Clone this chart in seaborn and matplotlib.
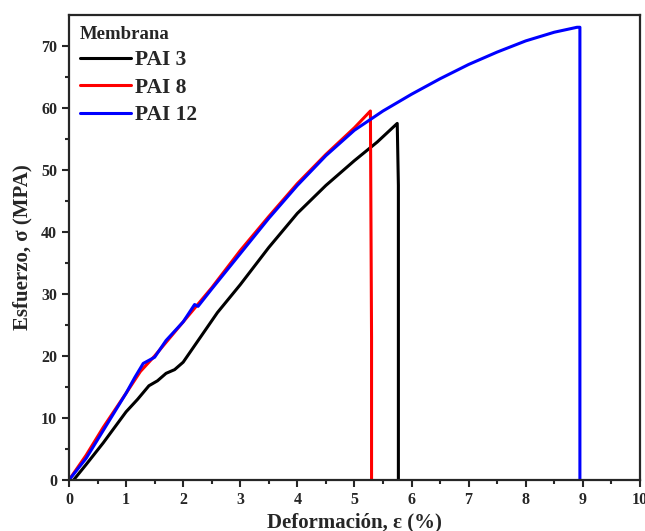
import numpy as np
import matplotlib.pyplot as plt
import pandas as pd
import seaborn as sns

# curves: strain (%) and stress (MPa)
pai3_x = [0.08, 0.3, 0.6, 1.0, 1.2, 1.4, 1.55, 1.7, 1.85, 2.0, 2.3, 2.6, 3.0, 3.5, 4.0, 4.5, 5.0, 5.4, 5.75, 5.77, 5.77]
pai3_y = [0.0, 2.5, 6.0, 11.0, 13.0, 15.2, 16.0, 17.2, 17.8, 19.0, 23.0, 27.0, 31.5, 37.5, 43.0, 47.5, 51.5, 54.5, 57.5, 47.5, 0.0]

pai8_x = [0.0, 0.3, 0.6, 1.0, 1.25, 1.5, 2.0, 2.5, 3.0, 3.5, 4.0, 4.5, 5.0, 5.28, 5.3, 5.3]
pai8_y = [0.0, 4.0, 8.5, 14.0, 17.5, 20.0, 25.5, 31.0, 37.0, 42.5, 47.8, 52.5, 56.8, 59.5, 23.0, 0.0]

pai12_x = [0.0, 0.3, 0.6, 1.0, 1.15, 1.3, 1.5, 1.7, 2.0, 2.2, 2.26, 2.5, 3.0, 3.5, 4.0, 4.5, 5.0, 5.5, 6.0, 6.5, 7.0, 7.5, 8.0, 8.5, 8.9, 8.95, 8.95]
pai12_y = [0.0, 3.5, 8.0, 14.0, 16.5, 18.8, 19.8, 22.5, 25.5, 28.3, 28.0, 30.8, 36.5, 42.2, 47.5, 52.3, 56.4, 59.5, 62.2, 64.7, 67.0, 69.0, 70.8, 72.2, 73.0, 73.0, 0.0]

names = ['PAI 3', 'PAI 8', 'PAI 12']
colors = ['black', 'red', 'blue']

frames = []
for n, xs, ys in zip(names, [pai3_x, pai8_x, pai12_x], [pai3_y, pai8_y, pai12_y]):
    frames.append(pd.DataFrame({'x': xs, 'y': ys, 'Membrana': n}))
data = pd.concat(frames, ignore_index=True)

sns.set_style('ticks')
plt.rcParams['font.family'] = ['Liberation Serif', 'DejaVu Serif']
plt.rcParams['font.weight'] = 'bold'

fig = plt.figure(figsize=(6.45, 5.31), dpi=100)
ax = fig.add_axes([0.107, 0.096, 0.885, 0.876])

sns.lineplot(data=data, x='x', y='y', hue='Membrana', palette=colors,
             sort=False, estimator=None, units='Membrana', linewidth=2.2, ax=ax)

ax.set_xlim(0, 10)
ax.set_ylim(0, 75)
ax.set_xticks(range(0, 11))
ax.set_yticks(range(0, 71, 10))
ax.set_xticks(np.arange(0.5, 10, 1), minor=True)
ax.set_yticks(np.arange(5, 75, 10), minor=True)
ax.tick_params(which='major', direction='out', length=5, width=1.5, labelsize=11.5)
ax.tick_params(which='minor', direction='out', length=3, width=1.5)
for lab in ax.get_xticklabels() + ax.get_yticklabels():
    lab.set_fontweight('bold')
for s in ax.spines.values():
    s.set_visible(True)
    s.set_linewidth(1.6)

ax.set_xlabel('Deformación, ε (%)', fontsize=15, fontweight='bold', labelpad=3)
ax.set_ylabel('Esfuerzo, σ (MPA)', fontsize=15, fontweight='bold', labelpad=6)

leg = ax.legend(title='Membrana', loc='upper left', frameon=False, fontsize=15.5,
                title_fontsize=13.5, handlelength=2.4, handletextpad=0.15,
                labelspacing=0.35, borderaxespad=0.0, borderpad=0.5)
leg._legend_box.align = 'left'
for t in leg.get_texts():
    t.set_fontweight('bold')
leg.get_title().set_fontweight('bold')

fig.savefig('out.png', dpi=100)
